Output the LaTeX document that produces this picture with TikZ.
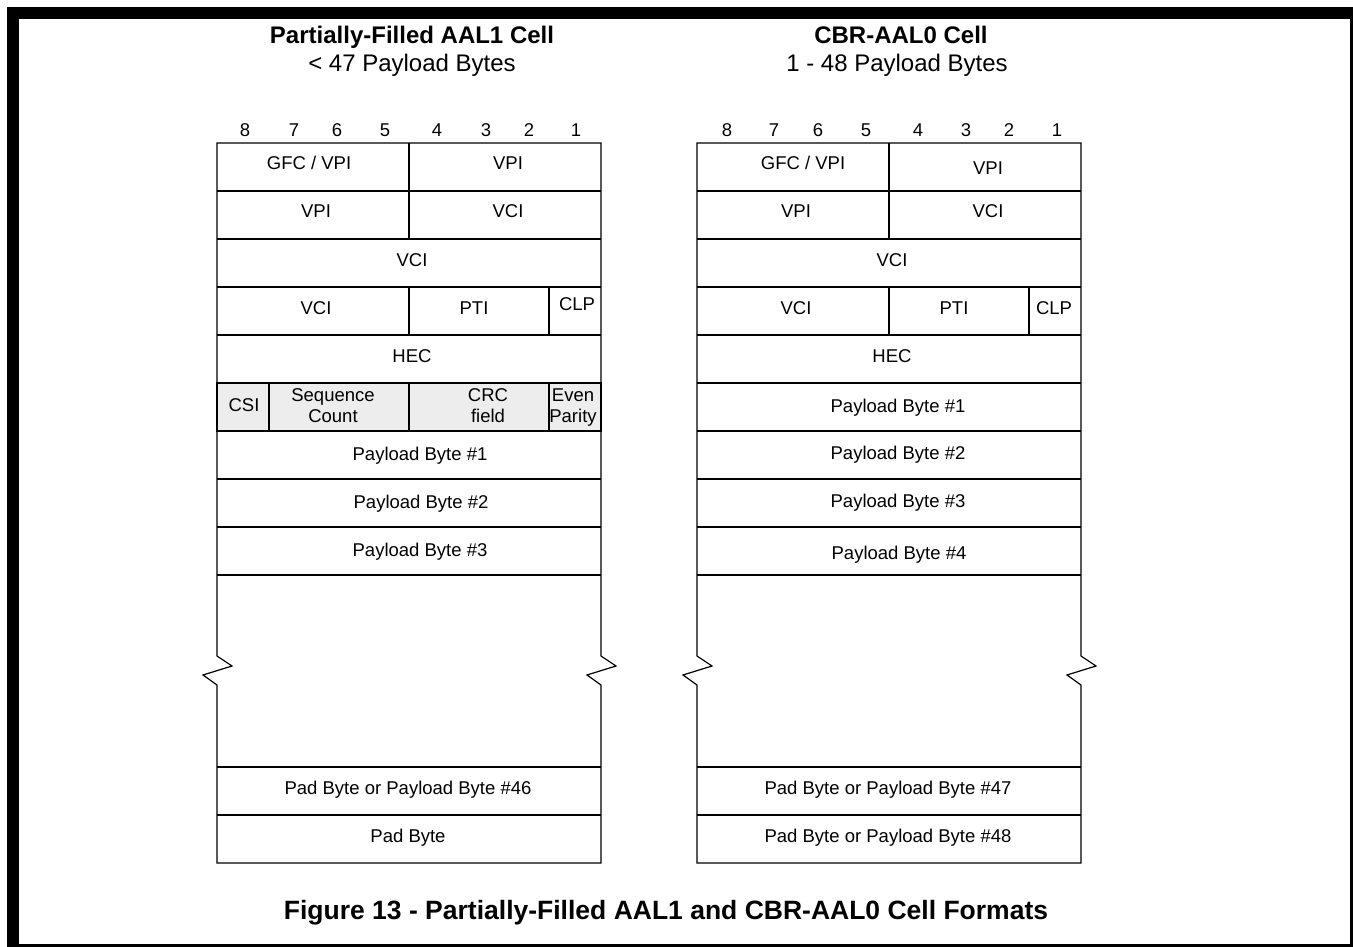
\documentclass[tikz,border=0pt]{standalone}
\usepackage{fontspec}
\setmainfont{Liberation Sans}
\begin{document}
\begin{tikzpicture}[x=1pt,y=-1pt,
  cellline/.style={line width=1.2pt, line join=miter},
  csirow/.style={line width=2pt, fill=black!7},
  lbl/.style={anchor=base, inner sep=0pt, font=\fontsize{18.5}{22}\selectfont},
  ttl/.style={anchor=base, inner sep=0pt, font=\fontsize{24}{28}\selectfont\bfseries},
  captn/.style={anchor=base, inner sep=0pt, font=\fontsize{26.5}{30}\selectfont\bfseries},
  subttl/.style={anchor=base, inner sep=0pt, font=\fontsize{24}{28}\selectfont}]
\useasboundingbox (0,0) rectangle (1353,947);
% frame
\fill[black] (7,7) rectangle (1353,947);
\fill[white] (19,19) rectangle (1350,944);
% common cell structure
\foreach \dx/\nm in {0/L,480/R}{
  \begin{scope}[xshift=\dx pt]
    \draw[cellline] (217,656) -- (217,143) -- (601,143) -- (601,656) -- (616,666) -- (587,675) -- (601,685)
      -- (601,863) -- (217,863) -- (217,685) -- (203,675) -- (232,666) -- cycle;
    \foreach \yy in {191,239,287,335,383,431,479,527,575,767,815}{
      \draw[cellline] (217,\yy) -- (601,\yy);
    }
    \draw[cellline] (409,143) -- (409,239);
    \draw[cellline] (409,287) -- (409,335);
    \draw[cellline] (549,287) -- (549,335);
  \end{scope}
}
% left CSI row
\draw[csirow] (217,383) rectangle (601,431);
\draw[line width=2pt] (269,383) -- (269,431);
\draw[line width=2pt] (409,383) -- (409,431);
\draw[line width=2pt] (549,383) -- (549,431);

% titles
\node[ttl] (t1) at (412,44) {Partially-Filled AAL1 Cell};
\node[subttl] (s1) at (412,72) {< 47 Payload Bytes};
\node[ttl] (t2) at (901,44) {CBR-AAL0 Cell};
\node[subttl] (s2) at (897,72) {1 - 48 Payload Bytes};
\node[captn] (cap) at (666,919) {Figure 13 - Partially-Filled AAL1 and CBR-AAL0 Cell Formats};

% bit numbers
\foreach \b/\xl/\xr in {8/245/727,7/294/774,6/337/818,5/385/866,4/437/918,3/486/966,2/529/1009,1/576/1057}{
  \node[lbl] (bl\b) at (\xl,137) {\b};
  \node[lbl] (br\b) at (\xr,137) {\b};
}

% left cell texts
\node[lbl] (l1a) at (309,170) {GFC / VPI};
\node[lbl] (l1b) at (508,170) {VPI};
\node[lbl] (l2a) at (316,218) {VPI};
\node[lbl] (l2b) at (508,218) {VCI};
\node[lbl] (l3) at (412,266) {VCI};
\node[lbl] (l4a) at (316,314) {VCI};
\node[lbl] (l4b) at (474,314) {PTI};
\node[lbl] (l4c) at (577,310) {CLP};
\node[lbl] (l5) at (412,362) {HEC};
\node[lbl] (lcsi) at (244,411) {CSI};
\node[lbl] (lseqa) at (333,401) {Sequence};
\node[lbl] (lseqb) at (333,422) {Count};
\node[lbl] (lcrca) at (488,401) {CRC};
\node[lbl] (lcrcb) at (488,422) {field};
\node[lbl] (lpara) at (573,401) {Even};
\node[lbl] (lparb) at (573,422) {Parity};
\node[lbl] (lp1) at (420,460) {Payload Byte \#1};
\node[lbl] (lp2) at (421,508) {Payload Byte \#2};
\node[lbl] (lp3) at (420,556) {Payload Byte \#3};
\node[lbl] (lp46) at (408,794) {Pad Byte or Payload Byte \#46};
\node[lbl] (lpad) at (408,842) {Pad Byte};

% right cell texts
\node[lbl] (r1a) at (803,170) {GFC / VPI};
\node[lbl] (r1b) at (988,175) {VPI};
\node[lbl] (r2a) at (796,218) {VPI};
\node[lbl] (r2b) at (988,218) {VCI};
\node[lbl] (r3) at (892,266) {VCI};
\node[lbl] (r4a) at (796,314) {VCI};
\node[lbl] (r4b) at (954,314) {PTI};
\node[lbl] (r4c) at (1054,314) {CLP};
\node[lbl] (r5) at (892,362) {HEC};
\node[lbl] (rp1) at (898,412) {Payload Byte \#1};
\node[lbl] (rp2) at (898,459) {Payload Byte \#2};
\node[lbl] (rp3) at (898,507) {Payload Byte \#3};
\node[lbl] (rp4) at (899,559) {Payload Byte \#4};
\node[lbl] (rp47) at (888,794) {Pad Byte or Payload Byte \#47};
\node[lbl] (rp48) at (888,842) {Pad Byte or Payload Byte \#48};
\end{tikzpicture}
\end{document}
